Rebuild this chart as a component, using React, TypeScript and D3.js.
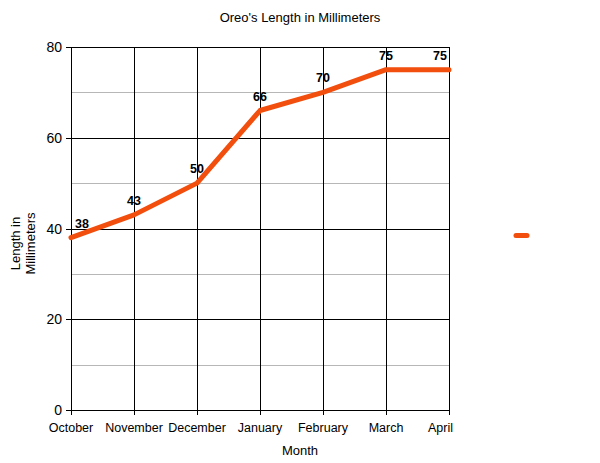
import * as d3 from "d3";

const months = ["October", "November", "December", "January", "February", "March", "April"];
const lengths = [38, 43, 50, 66, 70, 75, 75];
const majorTicks = [0, 20, 40, 60, 80];
const minorTicks = [10, 30, 50, 70];

const W = 600;
const H = 463;
const margin = { left: 71, right: 151, top: 47, bottom: 53 };
const lineColor = "#f24e0d";
const font = "'Liberation Sans', Arial, sans-serif";

export default function App() {
  const x = d3
    .scalePoint<string>()
    .domain(months)
    .range([margin.left, W - margin.right]);
  const y = d3
    .scaleLinear()
    .domain([0, 80])
    .range([H - margin.bottom, margin.top]);

  const line = d3
    .line<number>()
    .x((_d, i) => x(months[i]) as number)
    .y((d) => y(d));

  const x0 = margin.left;
  const x1 = W - margin.right;
  // half-pixel snap for crisp 1px grid lines
  const snap = (v: number) => Math.round(v) + 0.5;

  return (
    <svg
      width={W}
      height={H}
      style={{ position: "absolute", left: 0, top: 0, fontFamily: font }}
    >
      <rect width={W} height={H} fill="#fff" />
      <text x={300} y={22} textAnchor="middle" fontSize={13}>
        Oreo's Length in Millimeters
      </text>

      {minorTicks.map((t) => (
        <line key={"m" + t} x1={x0} x2={x1 + 1} y1={snap(y(t))} y2={snap(y(t))} stroke="#b7b7b7" />
      ))}
      {majorTicks.map((t) => (
        <g key={"M" + t}>
          <line x1={x0 - 5} x2={x1 + 1} y1={snap(y(t))} y2={snap(y(t))} stroke="#000" />
          <text x={x0 - 9} y={y(t) + 5} textAnchor="end" fontSize={14}>
            {t}
          </text>
        </g>
      ))}
      {months.map((m, i) => (
        <g key={m}>
          <line
            x1={snap(x(m) as number)}
            x2={snap(x(m) as number)}
            y1={margin.top}
            y2={y(0) + 5}
            stroke="#000"
          />
          <text
            x={i === months.length - 1 ? (x(m) as number) + 4 : x(m)}
            y={y(0) + 22}
            textAnchor={i === months.length - 1 ? "end" : "middle"}
            fontSize={12.5}
          >
            {m}
          </text>
        </g>
      ))}

      <path
        d={line(lengths) ?? ""}
        fill="none"
        stroke={lineColor}
        strokeWidth={5}
        strokeLinejoin="round"
        strokeLinecap="round"
      />

      {lengths.map((v, i) => {
        const px = x(months[i]) as number;
        const cx = Math.max(x0 + 11, Math.min(x1 - 9, px));
        return (
          <text
            key={"l" + i}
            x={cx}
            y={y(v) - 10}
            textAnchor="middle"
            fontSize={12.5}
            fontWeight="bold"
          >
            {v}
          </text>
        );
      })}

      <text x={300} y={455} textAnchor="middle" fontSize={13}>
        Month
      </text>
      <text
        transform={`translate(20,${(margin.top + H - margin.bottom) / 2 + 15}) rotate(-90)`}
        textAnchor="middle"
        fontSize={13}
      >
        <tspan x={0} dy={0}>Length in</tspan>
        <tspan x={0} dy={15}>Millimeters</tspan>
      </text>

      <line
        x1={516}
        x2={527}
        y1={235.5}
        y2={235.5}
        stroke={lineColor}
        strokeWidth={5}
        strokeLinecap="round"
      />
    </svg>
  );
}
